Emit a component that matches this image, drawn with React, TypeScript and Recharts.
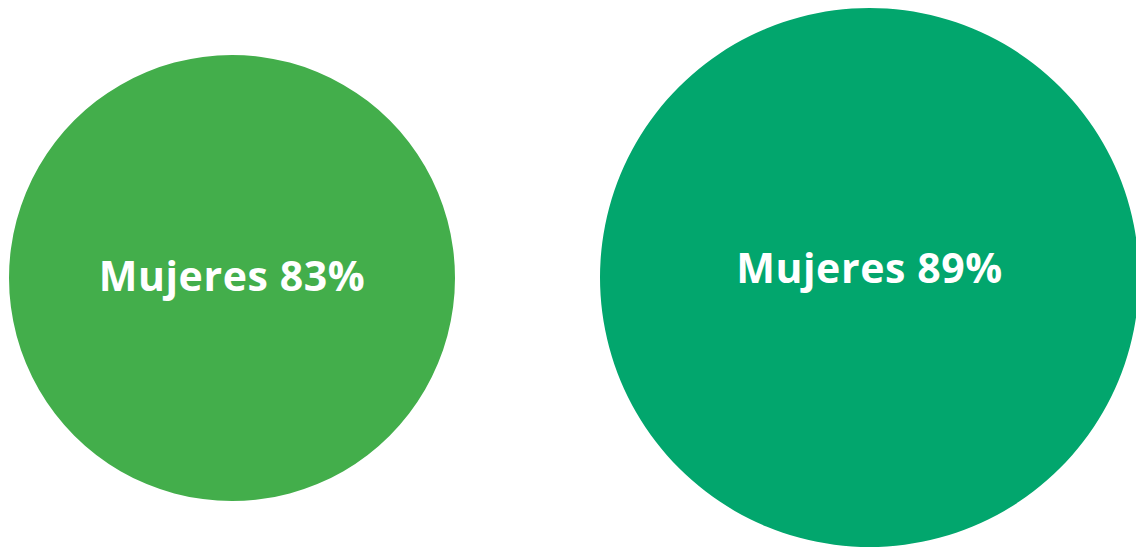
import React from 'react';
import { PieChart, Pie, Cell } from 'recharts';

// porcentaje de mujeres en cada grupo
const categories = ['Mujeres', 'Mujeres'];
const womenPct = [83, 89];
const colors = ['#43AE4B', '#02A66D'];

const bubbles = categories.map((name, i) => [{ name, value: womenPct[i] }]);

const renderLabel = (dy: number) => (props: any) => {
  const { cx, cy, payload } = props;
  return (
    <text
      x={cx}
      y={cy + dy}
      textAnchor="middle"
      fill="#fff"
      fontFamily="'Open Sans', sans-serif"
      fontWeight={700}
      fontSize={41}
      letterSpacing={0.6}
    >
      {`${payload.name} ${payload.value}%`}
    </text>
  );
};

export default function App() {
  return (
    <div style={{ position: 'absolute', left: 0, top: 0, width: 1136, height: 549, background: '#fff' }}>
      <PieChart width={1136} height={549} margin={{ top: 0, right: 0, bottom: 0, left: 0 }}>
        <Pie
          data={bubbles[0]}
          dataKey="value"
          nameKey="name"
          cx={232}
          cy={278}
          outerRadius={223}
          stroke="none"
          labelLine={false}
          label={renderLabel(13)}
          isAnimationActive={false}
        >
          <Cell fill={colors[0]} />
        </Pie>
        <Pie
          data={bubbles[1]}
          dataKey="value"
          nameKey="name"
          cx={869.5}
          cy={277.5}
          outerRadius={269.5}
          stroke="none"
          labelLine={false}
          label={renderLabel(5)}
          isAnimationActive={false}
        >
          <Cell fill={colors[1]} />
        </Pie>
      </PieChart>
    </div>
  );
}
